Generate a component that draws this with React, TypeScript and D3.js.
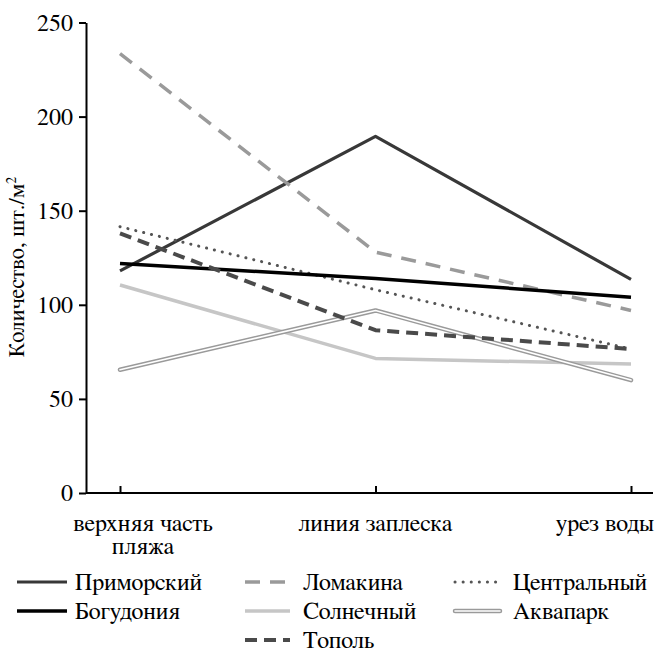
import React, { useEffect, useRef } from 'react'
import * as d3 from 'd3'

const categories = ['верхняя часть пляжа', 'линия заплеска', 'урез воды']
const primorsky = [118, 189.5, 113.5]
const lomakina = [233.5, 128, 97]
const centralny = [141.5, 108, 76.5]
const bogudonia = [122, 114, 104]
const solnechny = [110.5, 71.5, 68.5]
const akvapark = [65.5, 97, 60]
const topol = [138, 86.5, 76.5]
const yTicks = [0, 50, 100, 150, 200, 250]

const series = [
  { name: 'Приморский', values: primorsky, stroke: '#383838', width: 3.2, dash: null, cap: 'butt', col: 0, row: 0 },
  { name: 'Ломакина', values: lomakina, stroke: '#9a9a9a', width: 3.5, dash: '15 10', cap: 'butt', col: 1, row: 0 },
  { name: 'Центральный', values: centralny, stroke: '#555', width: 3, dash: '0.1 8', cap: 'round', col: 2, row: 0 },
  { name: 'Богудония', values: bogudonia, stroke: '#000', width: 3.5, dash: null, cap: 'butt', col: 0, row: 1 },
  { name: 'Солнечный', values: solnechny, stroke: '#c6c6c6', width: 3.5, dash: null, cap: 'butt', col: 1, row: 1 },
  { name: 'Аквапарк', values: akvapark, stroke: '#9a9a9a', width: 4.5, dash: null, cap: 'round', col: 2, row: 1, hollow: true },
  { name: 'Тополь', values: topol, stroke: '#4a4a4a', width: 4, dash: '12 7', cap: 'butt', col: 1, row: 2 },
]

const W = 655
const H = 652
const FONT = 'FreeSerif, "Liberation Serif", serif'

export default function App() {
  const xAxisRef = useRef(null)
  const yAxisRef = useRef(null)

  const x = d3.scalePoint().domain(categories).range([120, 631])
  const y = d3.scaleLinear().domain([0, 250]).range([493, 22.5])

  useEffect(() => {
    const ya = d3.axisLeft(y).tickValues(yTicks).tickSizeInner(7).tickSizeOuter(0).tickPadding(6)
    const gy = d3.select(yAxisRef.current).call(ya)
    gy.attr('font-family', FONT)
    gy.selectAll('text').attr('font-family', FONT).attr('font-size', 24).attr('fill', '#000')
    gy.selectAll('line,path').attr('stroke', '#000').attr('stroke-width', 2)

    // x ticks point inward, labels drawn separately
    const xa = d3.axisBottom(x).tickSizeInner(-7).tickSizeOuter(0).tickFormat(() => '')
    const gx = d3.select(xAxisRef.current).call(xa)
    gx.select('path').remove()
    gx.selectAll('line').attr('stroke', '#000').attr('stroke-width', 2)
  }, [])

  const line = d3.line<number>()
    .x((_, i) => x(categories[i]))
    .y((d) => y(d))

  const legendX = [17, 245, 455]
  const legendY = [582, 611, 640]

  return (
    <svg width={W} height={H} style={{ position: 'absolute', left: 0, top: 0, background: '#fff' }}>
      <g ref={yAxisRef} transform="translate(86,0)" />
      <g ref={xAxisRef} transform={`translate(0,${y(0)})`} />
      <path d={`M86,${y(0)}H${W - 2}`} stroke="#000" strokeWidth={2} />

      <text transform={`translate(24,267) rotate(-90)`} textAnchor="middle" fontFamily={FONT} fontSize={22.5}>
        Количество, шт./м<tspan dy={-8} fontSize={14}>2</tspan>
      </text>

      <g fontFamily={FONT} fontSize={24}>
        <text x={143} y={531} textAnchor="middle">верхняя часть</text>
        <text x={143} y={554} textAnchor="middle">пляжа</text>
        <text x={x(categories[1])} y={531} textAnchor="middle">линия заплеска</text>
        <text x={654} y={531} textAnchor="end">урез воды</text>
      </g>

      {series.map((s) => (
        <g key={s.name}>
          <path d={line(s.values)} fill="none" stroke={s.stroke} strokeWidth={s.width}
            strokeDasharray={s.dash || undefined} strokeLinecap={s.cap} strokeLinejoin="round" />
          {s.hollow && (
            <path d={line(s.values)} fill="none" stroke="#fff" strokeWidth={1.6} strokeLinejoin="round" strokeLinecap="round" />
          )}
        </g>
      ))}

      <g fontFamily={FONT} fontSize={24}>
        {series.map((s) => {
          const lx = legendX[s.col]
          const ly = legendY[s.row]
          const len = s.col === 0 ? 50 : 45
          return (
            <g key={s.name}>
              <line x1={lx} x2={lx + len} y1={ly} y2={ly} stroke={s.stroke} strokeWidth={s.width}
                strokeDasharray={s.dash || undefined} strokeLinecap={s.cap} />
              {s.hollow && <line x1={lx} x2={lx + len} y1={ly} y2={ly} stroke="#fff" strokeWidth={1.6} strokeLinecap="round" />}
              <text x={lx + len + (s.col === 0 ? 8 : 13)} y={ly + 8}>{s.name}</text>
            </g>
          )
        })}
      </g>
    </svg>
  )
}
